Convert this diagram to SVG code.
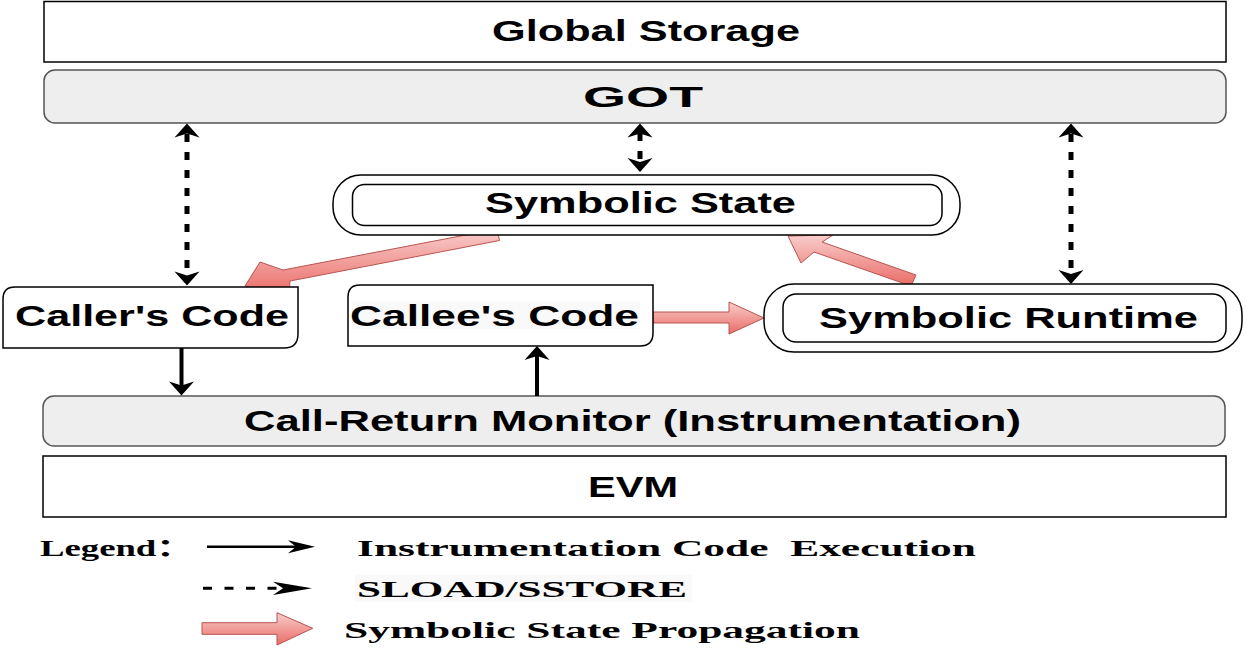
<svg xmlns="http://www.w3.org/2000/svg" width="1246" height="654" viewBox="0 0 1246 654">
<style>
.box{fill:#ffffff;stroke:#000000;stroke-width:1.5}
.grey{fill:#eeeeee;stroke:#555555;stroke-width:1.5}
.lbl{font-family:"Liberation Sans",Arial,sans-serif;font-weight:bold;font-size:29px;fill:#000000}
.leg{font-family:"Liberation Serif","Noto Sans CJK SC",serif;font-weight:bold;font-size:24px;fill:#000000}
.dash{stroke:#000000;stroke-width:5;stroke-dasharray:8 10;fill:none}
.solid{stroke:#000000;stroke-width:4;fill:none}
.pink{fill:url(#pinkV);stroke:#b85450;stroke-width:1}
</style>
<defs>
<linearGradient id="pinkV" x1="0" y1="0" x2="0" y2="1">
<stop offset="0" stop-color="#f8cecc"/>
<stop offset="1" stop-color="#ea6b66"/>
</linearGradient>
<path id="headV" d="M0,0 L12.5,14 L0,10 L-12.5,14 Z" fill="#000000"/>
<path id="headH" d="M0,0 L-27,-6.5 L-19,0 L-27,6.5 Z" fill="#000000"/>
</defs>

<g id="connectors-pink">
<polygon class="pink" points="497,229 499.5,240.5 290,281 289,296 245,286 260,262 283,270"/>
<polygon class="pink" points="788,236 801,263 814,252 911,286 916,275 822,242 833,235"/>
<polygon class="pink" points="653,312 729,312 729,302 764,318 729,334 729,323 653,323"/>
</g>

<g id="global-storage">
<rect class="box" x="44" y="1.5" width="1182" height="60.5"/>
<text class="lbl" x="492" y="40.5" textLength="308" lengthAdjust="spacingAndGlyphs">Global Storage</text>
</g>

<g id="got">
<rect class="grey" x="44" y="70" width="1182" height="53" rx="11"/>
<text class="lbl" x="583" y="106.5" textLength="120" lengthAdjust="spacingAndGlyphs">GOT</text>
</g>

<g id="symbolic-state">
<rect class="box" x="333" y="175" width="627" height="60" rx="28" ry="28"/>
<rect class="box" x="352.5" y="184.5" width="589.5" height="41" rx="12"/>
<text class="lbl" x="485" y="213" textLength="311" lengthAdjust="spacingAndGlyphs">Symbolic State</text>
</g>

<g id="callers-code">
<path class="box" d="M15,287 L298,287 L298,334 Q298,348 284,348 L3,348 L3,299 Q3,287 15,287 Z"/>
<text class="lbl" x="15" y="326" textLength="274" lengthAdjust="spacingAndGlyphs">Caller's Code</text>
</g>

<g id="callees-code">
<path class="box" d="M360,285 L653,285 L653,333 Q653,346 640,346 L348,346 L348,297 Q348,285 360,285 Z"/>
<rect x="352" y="301" width="288" height="28" fill="#f9f9f9"/>
<text class="lbl" x="350" y="325.5" textLength="289" lengthAdjust="spacingAndGlyphs">Callee's Code</text>
</g>

<g id="symbolic-runtime">
<rect class="box" x="764" y="284" width="478" height="68" rx="30" ry="30"/>
<rect class="box" x="783" y="294" width="443" height="48" rx="13"/>
<text class="lbl" x="819" y="328" textLength="379" lengthAdjust="spacingAndGlyphs">Symbolic Runtime</text>
</g>

<g id="call-return-monitor">
<rect class="grey" x="43" y="396" width="1182" height="50" rx="11"/>
<text class="lbl" x="244" y="431" textLength="777" lengthAdjust="spacingAndGlyphs">Call-Return Monitor (Instrumentation)</text>
</g>

<g id="evm">
<rect class="box" x="43" y="456" width="1183" height="61"/>
<text class="lbl" x="588" y="497" textLength="90" lengthAdjust="spacingAndGlyphs">EVM</text>
</g>

<g id="connectors">
<line class="dash" x1="187" y1="134" x2="187" y2="274"/>
<use href="#headV" transform="translate(187,123.5)"/>
<use href="#headV" transform="translate(187,285.5) rotate(180)"/>
<line class="dash" x1="640" y1="133" x2="640" y2="161" stroke-dasharray="14 14"/>
<use href="#headV" transform="translate(640,123.5)"/>
<use href="#headV" transform="translate(640,172) rotate(180)"/>
<line class="dash" x1="1071" y1="134" x2="1071" y2="273"/>
<use href="#headV" transform="translate(1071,123.5)"/>
<use href="#headV" transform="translate(1071,284) rotate(180)"/>
<line class="solid" x1="181.5" y1="348" x2="181.5" y2="386"/>
<use href="#headV" transform="translate(181.5,395.5) rotate(180)"/>
<line class="solid" x1="537" y1="396" x2="537" y2="356"/>
<use href="#headV" transform="translate(537,346)"/>
</g>

<g id="legend">
<text class="leg" x="40" y="556" textLength="153" lengthAdjust="spacingAndGlyphs">Legend：</text>
<line x1="207" y1="546.7" x2="298" y2="546.7" stroke="#000000" stroke-width="2.5"/>
<use href="#headH" transform="translate(315,546.7)"/>
<text class="leg" x="357" y="556" textLength="619" lengthAdjust="spacingAndGlyphs" xml:space="preserve">Instrumentation Code  Execution</text>
<line x1="203" y1="588.3" x2="278" y2="588.3" stroke="#000000" stroke-width="3" stroke-dasharray="9 12.5"/>
<path d="M312,588.3 L273,581.7 L283,588.3 L273,595 Z" fill="#000000"/>
<rect x="355" y="575" width="337" height="27" fill="#f9f9f9"/>
<text class="leg" x="357" y="597" textLength="330" lengthAdjust="spacingAndGlyphs">SLOAD/SSTORE</text>
<polygon class="pink" points="202,622.7 277,622.7 277,612.7 312.7,628.3 277,645 277,634.3 202,634.3"/>
<text class="leg" x="344" y="637.5" textLength="516" lengthAdjust="spacingAndGlyphs">Symbolic State Propagation</text>
</g>
</svg>
